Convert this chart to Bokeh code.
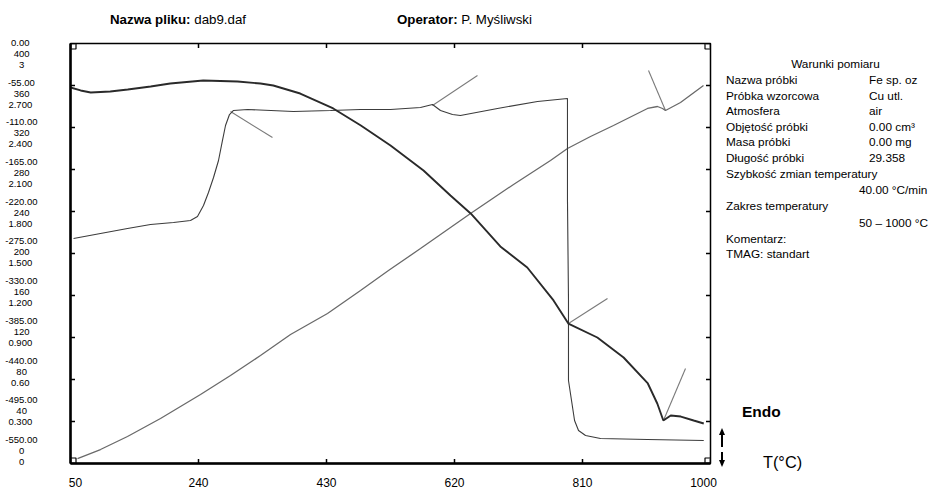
import math
from bokeh.plotting import figure
from bokeh.models import Range1d, FixedTicker, Div
from bokeh.layouts import column, row
from bokeh.embed import file_html
from bokeh.resources import INLINE

# ---------------- data ----------------
x_ticks = [50, 240, 430, 620, 810, 1000]
x_labels = ["50", "240", "430", "620", "810", "1000"]
y_ticks = [0, -55, -110, -165, -220, -275, -330, -385, -440, -495, -550]
y_labels_1 = ["0.00", "-55.00", "-110.00", "-165.00", "-220.00", "-275.00",
              "-330.00", "-385.00", "-440.00", "-495.00", "-550.00"]
y_labels_2 = ["400", "360", "320", "280", "240", "200", "160", "120", "80", "40", "0"]
y_labels_3 = ["3", "2.700", "2.400", "2.100", "1.800", "1.500", "1.200", "0.900",
              "0.60", "0.300", "0"]

# curve 1 (dark, top hump then falling)
c1_t = [50, 65, 80, 109, 135, 169, 198, 247, 298, 332, 351, 391, 440, 481, 525,
        574, 614, 644, 688, 728, 767, 789, 832, 871, 907, 921, 930, 941, 956, 975, 990]
c1_v = [-57.6, -61.5, -64.2, -62.9, -60.2, -56.3, -52.4, -48.5, -49.8, -52.4, -55.0,
        -65.5, -85.1, -107.4, -133.6, -166.3, -199.0, -222.6, -265.8, -293.3, -336.5,
        -366.7, -385.0, -411.2, -445.2, -471.4, -493.7, -487.1, -488.5, -493.7, -497.6]

# curve 2 (step at ~280, plateau, sharp drop at ~788)
c2_t = [54.5, 94.5, 134.6, 168.8, 202.9, 228.1, 238.5, 247.4, 254.8, 262.3, 269.7,
        275.6, 280.1, 286.0, 292.0, 312.7, 381.0, 435.9, 480.5, 525.0, 569.5, 587.3,
        599.2, 617.0, 628.8, 683.8, 743.2, 787.7, 787.7, 789.2, 789.2, 793.7, 798.2,
        804.1, 814.5, 836.7, 906.5, 990.0]
c2_v = [-255.4, -248.8, -242.3, -237.0, -234.4, -231.8, -226.5, -212.1, -195.1, -175.5,
        -153.2, -127.0, -107.4, -93.0, -87.7, -86.4, -89.0, -87.7, -86.4, -86.4, -83.8,
        -79.9, -87.7, -93.0, -94.3, -85.1, -76.0, -72.0, -205.6, -336.5, -441.3, -467.5,
        -493.7, -506.8, -513.3, -517.3, -518.6, -519.9]

# curve 3 (rising grey line)
c3_t = [60.4, 94.5, 134.6, 183.6, 243.0, 287.5, 332.0, 376.6, 431.5, 480.5, 522.0,
        569.5, 643.8, 707.6, 762.5, 787.7, 821.9, 856.0, 906.5, 921.3, 928.8, 933.2,
        955.5, 989.6]
c3_v = [-543.5, -531.7, -514.6, -491.1, -459.6, -434.8, -408.6, -381.1, -353.6, -323.5,
        -297.3, -268.5, -222.6, -184.6, -153.2, -137.5, -121.8, -107.4, -85.1, -82.5,
        -85.1, -87.7, -77.3, -55.0]

# tangent construction lines (start/end points)
tan_x0 = [287.5, 587.3, 789.2, 930.2, 908.0]
tan_y0 = [-89.0, -81.2, -366.7, -493.7, -35.4]
tan_x1 = [349.8, 654.1, 847.1, 962.9, 933.2]
tan_y1 = [-123.1, -41.9, -333.9, -425.6, -87.7]

info_keys = ["Nazwa próbki", "Próbka wzorcowa", "Atmosfera", "Objętość próbki",
             "Masa próbki", "Długość próbki"]
info_vals = ["Fe sp. oz", "Cu utl.", "air", "0.00 cm³", "0.00 mg", "29.358"]

FONT = "Liberation Sans"
CSS_FONT = "font-family:'Liberation Sans',Arial,sans-serif;color:#000;"

# ---------------- figure ----------------
FIG_W, FIG_H, HEAD_H, TOTAL_W = 728, 457, 35, 942
p = figure(width=FIG_W, height=FIG_H, output_backend="svg", toolbar_location=None,
           x_range=Range1d(50, 1000), y_range=Range1d(-550, 0),
           min_border_left=70, min_border_right=18, min_border_top=8,
           min_border_bottom=29)
p.grid.visible = False
p.outline_line_color = "black"
p.outline_line_width = 1.5

# x labels: the two end labels sit slightly inside the frame, as in the original print
x_label_pos = [x_ticks[0] + 7.4] + x_ticks[1:-1] + [x_ticks[-1] - 10.4]
xa = p.xaxis[0]
xa.ticker = FixedTicker(ticks=x_label_pos)
xa.major_label_overrides = {lp: s for lp, s in zip(x_label_pos, x_labels)}
xa.major_tick_line_color = None
xa.major_tick_in = 0
xa.major_tick_out = 0
xa.minor_tick_line_color = None
xa.axis_line_width = 2.5
xa.major_label_standoff = 14
xa.major_label_text_font = FONT
xa.major_label_text_font_size = "12px"
xa.major_label_text_color = "black"


# y labels: three scales stacked, each line padded so the stack looks centred
def _em(s):
    w = {".": 0.278, "-": 0.333}
    return sum(w.get(ch, 0.556) for ch in s)


W_MAX = max(_em(s) for s in y_labels_1 + y_labels_2 + y_labels_3)


def _centre(s):
    pad = (W_MAX - _em(s)) / 2
    n_fig = int(pad // 0.556)
    rest = pad - n_fig * 0.556
    out = s + "\u2007" * n_fig
    if rest > 0.139:
        out += "\u2008" if rest < 0.417 else "\u2007"
    return out


label_pos = [t * 0.9452 - 13.1 for t in y_ticks]
ya = p.yaxis[0]
ya.ticker = FixedTicker(ticks=label_pos)
ya.major_label_overrides = {lp: "\n".join(_centre(s) for s in (a, b, c)) for lp, a, b, c in
                            zip(label_pos, y_labels_1, y_labels_2, y_labels_3)}
ya.major_tick_line_color = None
ya.major_tick_in = 0
ya.major_tick_out = 0
ya.minor_tick_line_color = None
ya.axis_line_width = 2.5
ya.major_label_standoff = 33
ya.major_label_text_font = FONT
ya.major_label_text_font_size = "9.5px"
ya.major_label_text_line_height = 1.0
ya.major_label_text_color = "black"

# inward tick marks on all four edges (half of each dash is clipped by the frame)
n_y = len(y_ticks)
n_x = len(x_ticks)
p.scatter([50] * n_y, y_ticks, marker="dash", size=9, line_color="black", line_width=1.5)
p.scatter([1000] * n_y, y_ticks, marker="dash", size=9, line_color="black", line_width=1.5)
p.scatter(x_ticks, [0] * n_x, marker="dash", angle=math.pi / 2, size=9,
          line_color="black", line_width=1.5)
p.scatter(x_ticks, [-550] * n_x, marker="dash", angle=math.pi / 2, size=9,
          line_color="black", line_width=1.5)
# small corner squares
p.scatter([50, 50, 1000, 1000], [0, -550, 0, -550], marker="square", size=11,
          fill_color=None, line_color="black", line_width=1.2)

p.segment(tan_x0, tan_y0, tan_x1, tan_y1, line_color="#7a7a7a", line_width=1.1)
p.line(c3_t, c3_v, line_color="#6a6a6a", line_width=1.3)
p.line(c2_t, c2_v, line_color="#3c3c3c", line_width=1.1)
p.line(c1_t, c1_v, line_color="#2a2a2a", line_width=1.9)


# ---------------- surrounding text (HTML) ----------------
def item(text, x, yc, size=11.8, bold=False, center=False):
    lh = round(size * 1.25, 1)
    tr = "transform:translateX(-50%);" if center else ""
    fw = "font-weight:bold;" if bold else ""
    return (f'<div style="position:absolute;left:{x}px;top:{yc - lh / 2:.1f}px;'
            f'font-size:{size}px;line-height:{lh}px;white-space:nowrap;{fw}{tr}">{text}</div>')


header_html = (f'<div style="position:relative;width:{TOTAL_W}px;height:{HEAD_H}px;{CSS_FONT}">'
               + item("<b>Nazwa pliku:</b> dab9.daf", 110, 20, 13.3)
               + item("<b>Operator:</b> P. Myśliwski", 397, 20, 13.3)
               + '</div>')
header = Div(text=header_html, width=TOTAL_W, height=HEAD_H, margin=0)

# panel coordinates: page pixel minus panel origin (FIG_W, HEAD_H)
PX, PY = FIG_W, HEAD_H
rows_y = [80, 96, 111, 127, 142, 158]
panel_items = [item("Warunki pomiaru", 835.5 - PX, 64 - PY, center=True)]
for k, v, yy in zip(info_keys, info_vals, rows_y):
    panel_items.append(item(k, 726 - PX, yy - PY))
    panel_items.append(item(v, 869 - PX, yy - PY))
panel_items += [
    item("Szybkość zmian temperatury", 726 - PX, 174 - PY),
    item("40.00 °C/min", 859 - PX, 190.7 - PY),
    item("Zakres temperatury", 726 - PX, 206.7 - PY),
    item("50 – 1000 °C", 859 - PX, 223.3 - PY),
    item("Komentarz:", 726 - PX, 239.3 - PY),
    item("TMAG: standart", 726 - PX, 254.3 - PY),
    item("Endo", 742 - PX, 412 - PY, 15.5, bold=True),
    item("T(°C)", 763 - PX, 462 - PY, 16.3),
    # arrows (up / down)
    f'<div style="position:absolute;left:{718.5 - PX}px;top:{428 - PY}px;width:0;height:0;'
    'border-left:3.5px solid transparent;border-right:3.5px solid transparent;'
    'border-bottom:7px solid #000;"></div>',
    f'<div style="position:absolute;left:{721 - PX}px;top:{434 - PY}px;width:2px;height:13px;background:#000;"></div>',
    f'<div style="position:absolute;left:{721 - PX}px;top:{452 - PY}px;width:2px;height:9px;background:#000;"></div>',
    f'<div style="position:absolute;left:{718.5 - PX}px;top:{460 - PY}px;width:0;height:0;'
    'border-left:3.5px solid transparent;border-right:3.5px solid transparent;'
    'border-top:7px solid #000;"></div>',
]
PANEL_W = TOTAL_W - FIG_W
panel_html = (f'<div style="position:relative;width:{PANEL_W}px;height:{FIG_H}px;'
              f'overflow:visible;{CSS_FONT}">' + "".join(panel_items) + '</div>')
panel = Div(text=panel_html, width=PANEL_W, height=FIG_H, margin=0,
            styles={"overflow": "visible"})

layout = column(header, row(p, panel, spacing=0), spacing=0)

open("out.html", "w").write(file_html(layout, INLINE))
